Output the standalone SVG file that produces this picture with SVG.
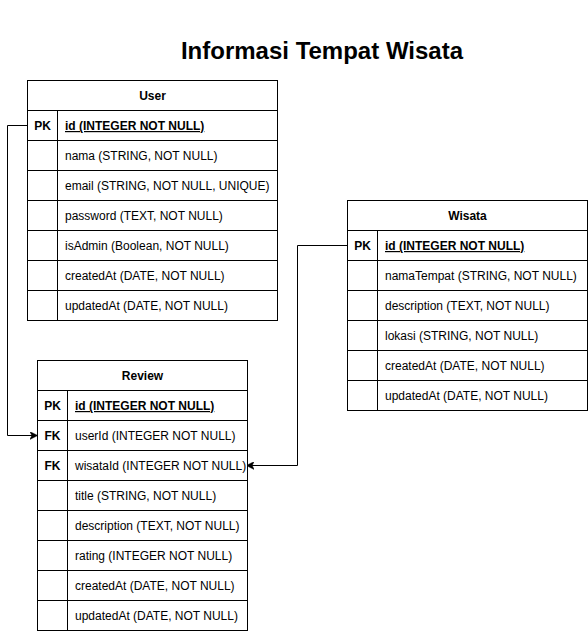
<svg xmlns="http://www.w3.org/2000/svg" width="588" height="632" viewBox="0 0 588 632">
<style>
.box{fill:#fff;stroke:#000;stroke-width:1}
.ln{stroke:#000;stroke-width:1;fill:none}
text{font-family:"Liberation Sans",Arial,sans-serif;font-size:12px;fill:#000}
.h{font-weight:bold;text-anchor:middle}
.k{font-weight:bold;text-anchor:middle}
.pk{font-weight:bold;text-decoration:underline}
.title{font-size:24px;font-weight:bold;text-anchor:middle}
.conn{stroke:#000;stroke-width:1;fill:none;marker-end:url(#arr)}
</style>
<defs>
<marker id="arr" viewBox="0 0 10 10" refX="9" refY="5" markerWidth="8" markerHeight="8" markerUnits="userSpaceOnUse" orient="auto">
<path d="M0,0 L10,5 L0,10 L2.5,5 Z" fill="#000" stroke="#000" stroke-width="0.5"/>
</marker>
</defs>
<rect width="588" height="632" fill="#fff"/>
<text class="title" x="322" y="59">Informasi Tempat Wisata</text>

<g id="connectors">
<path class="conn" d="M27.5,125.5 H7.5 V435.5 H37"/>
<path class="conn" d="M347.5,245.5 H297.5 V465.5 H247"/>
</g>

<g id="user">
<rect class="box" x="27.5" y="80.5" width="250" height="240"/>
<path class="ln" d="M27.5,110.5 H277.5 M27.5,140.5 H277.5 M27.5,170.5 H277.5 M27.5,200.5 H277.5 M27.5,230.5 H277.5 M27.5,260.5 H277.5 M27.5,290.5 H277.5 M57.5,110.5 V320.5"/>
<text class="h" x="152.5" y="100">User</text>
<text class="k" x="42.5" y="130">PK</text>
<text class="pk" x="65" y="130">id (INTEGER NOT NULL)</text>
<text x="65" y="160">nama (STRING, NOT NULL)</text>
<text x="65" y="190">email (STRING, NOT NULL, UNIQUE)</text>
<text x="65" y="220">password (TEXT, NOT NULL)</text>
<text x="65" y="250">isAdmin (Boolean, NOT NULL)</text>
<text x="65" y="280">createdAt (DATE, NOT NULL)</text>
<text x="65" y="310">updatedAt (DATE, NOT NULL)</text>
</g>

<g id="wisata">
<rect class="box" x="347.5" y="200.5" width="240" height="210"/>
<path class="ln" d="M347.5,230.5 H587.5 M347.5,260.5 H587.5 M347.5,290.5 H587.5 M347.5,320.5 H587.5 M347.5,350.5 H587.5 M347.5,380.5 H587.5 M377.5,230.5 V410.5"/>
<text class="h" x="467.5" y="220">Wisata</text>
<text class="k" x="362.5" y="250">PK</text>
<text class="pk" x="385" y="250">id (INTEGER NOT NULL)</text>
<text x="385" y="280">namaTempat (STRING, NOT NULL)</text>
<text x="385" y="310">description (TEXT, NOT NULL)</text>
<text x="385" y="340">lokasi (STRING, NOT NULL)</text>
<text x="385" y="370">createdAt (DATE, NOT NULL)</text>
<text x="385" y="400">updatedAt (DATE, NOT NULL)</text>
</g>

<g id="review">
<rect class="box" x="37.5" y="360.5" width="210" height="270"/>
<path class="ln" d="M37.5,390.5 H247.5 M37.5,420.5 H247.5 M37.5,450.5 H247.5 M37.5,480.5 H247.5 M37.5,510.5 H247.5 M37.5,540.5 H247.5 M37.5,570.5 H247.5 M37.5,600.5 H247.5 M67.5,390.5 V630.5"/>
<text class="h" x="142.5" y="380">Review</text>
<text class="k" x="52.5" y="410">PK</text>
<text class="pk" x="75" y="410">id (INTEGER NOT NULL)</text>
<text class="k" x="52.5" y="440">FK</text>
<text x="75" y="440">userId (INTEGER NOT NULL)</text>
<text class="k" x="52.5" y="470">FK</text>
<text x="75" y="470">wisataId (INTEGER NOT NULL)</text>
<text x="75" y="500">title (STRING, NOT NULL)</text>
<text x="75" y="530">description (TEXT, NOT NULL)</text>
<text x="75" y="560">rating (INTEGER NOT NULL)</text>
<text x="75" y="590">createdAt (DATE, NOT NULL)</text>
<text x="75" y="620">updatedAt (DATE, NOT NULL)</text>
</g>
</svg>
